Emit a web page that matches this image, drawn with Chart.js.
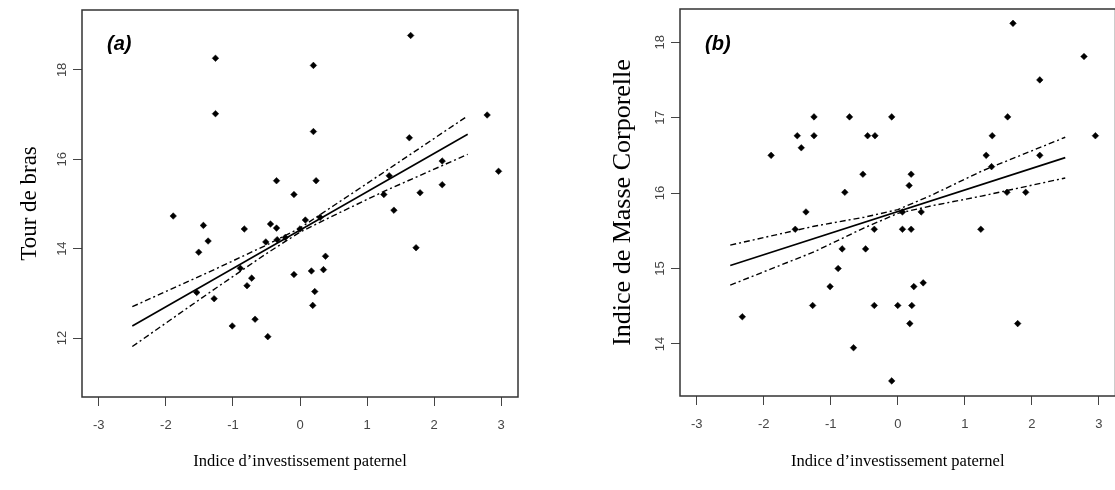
<!DOCTYPE html>
<html lang="fr">
<head>
    <meta charset="UTF-8">
    <title>Investissement paternel</title>
    <script src="https://cdn.jsdelivr.net/npm/chart.js"></script>
    <style>
        body {
            margin: 0;
            background: #fff;
            width: 1115px;
            height: 490px;
            overflow: hidden;
            position: relative;
        }
        .panel {
            position: absolute;
            top: 0;
        }
        #panelA { left: 0; }
        #panelB { left: 560px; }
    </style>
</head>
<body>
    <div class="panel" id="panelA"><canvas id="chartA" width="540" height="490"></canvas></div>
    <div class="panel" id="panelB"><canvas id="chartB" width="560" height="490"></canvas></div>

    <script>
        // (a) indice d'investissement paternel vs tour de bras
        const aInvest = [-1.26, 0.20, -1.26, 0.20, -0.35, 0.24, -0.09, -1.89, -1.44, -0.83,
                         -0.44, -0.35, 0.08, 1.65, 2.79, 1.63, 2.96, 2.12, 1.33, 2.12,
                         1.79, 1.25, 1.40, -1.37, -1.51, -0.51, 0.00, -0.89, -0.72, -0.79,
                         -1.54, -1.28, -1.01, -0.67, -0.48, -0.09, 0.17, 0.35, 0.38, 0.22,
                         0.19, 1.73, -0.34, -0.22, 0.30];
        const aBras = [18.26, 18.10, 17.02, 16.62, 15.52, 15.52, 15.21, 14.73, 14.52, 14.44,
                       14.55, 14.46, 14.64, 18.77, 16.99, 16.48, 15.73, 15.96, 15.63, 15.43,
                       15.25, 15.21, 14.86, 14.17, 13.92, 14.15, 14.44, 13.56, 13.34, 13.17,
                       13.02, 12.88, 12.27, 12.42, 12.03, 13.42, 13.50, 13.53, 13.83, 13.04,
                       12.73, 14.02, 14.20, 14.25, 14.70];

        // (b) indice d'investissement paternel vs IMC
        const bInvest = [-1.89, -1.50, -1.44, -1.25, -1.25, -0.72, -0.45, -0.34, -0.52, -0.79,
                         -1.37, -1.53, 1.72, 2.78, 2.12, -0.09, 1.64, 1.41, 2.95, 1.32,
                         2.12, 1.40, 0.20, 0.17, 1.63, 1.91, 0.07, 0.35, -0.35, 0.07,
                         0.20, 1.24, -0.83, -0.48, -0.89, -1.01, -1.27, -2.32, -0.66, -0.35,
                         0.00, 0.21, 0.18, 0.24, 0.38, 1.79, -0.09];
        const bImc = [16.50, 16.76, 16.60, 17.01, 16.76, 17.01, 16.76, 16.76, 16.25, 16.01,
                      15.75, 15.52, 18.25, 17.81, 17.50, 17.01, 17.01, 16.76, 16.76, 16.50,
                      16.50, 16.35, 16.25, 16.10, 16.01, 16.01, 15.75, 15.75, 15.52, 15.52,
                      15.52, 15.52, 15.26, 15.26, 15.00, 14.76, 14.51, 14.36, 13.95, 14.51,
                      14.51, 14.51, 14.27, 14.76, 14.81, 14.27, 13.51];

        // droites de régression et intervalles de confiance
        const fitX = [-2.5, 2.5];
        const aFit = [12.27, 16.56];
        const bFit = [15.04, 16.47];
        const bandX = [-2.5, -1.25, -0.5, 0, 0.5, 1.25, 2.5];
        const aUpper = [12.70, 13.55, 14.08, 14.46, 14.96, 15.71, 16.97];
        const aLower = [11.81, 13.12, 13.89, 14.37, 14.74, 15.28, 16.11];
        const bUpper = [15.31, 15.56, 15.68, 15.78, 15.97, 16.29, 16.74];
        const bLower = [14.78, 15.22, 15.54, 15.73, 15.83, 15.96, 16.20];

        const xTicks = [-3, -2, -1, 0, 1, 2, 3];
        const xTitle = 'Indice d\u2019investissement paternel';

        const sansFont = '"Liberation Sans", Arial, sans-serif';
        const serifFont = '"Liberation Serif", "Times New Roman", serif';

        function toXY(xs, ys) {
            return xs.map((v, i) => ({ x: v, y: ys[i] }));
        }

        // cadre, étiquettes verticales, titres et lettre du panneau
        function decoPlugin(o) {
            return {
                id: 'deco',
                afterDraw(chart) {
                    const ctx = chart.ctx;
                    const area = chart.chartArea;
                    const ys = chart.scales.y;
                    ctx.save();
                    ctx.strokeStyle = '#333';
                    ctx.lineWidth = 1.5;
                    ctx.strokeRect(area.left, area.top, area.right - area.left, area.bottom - area.top);

                    // ticks y tournés comme dans R
                    ctx.fillStyle = '#444';
                    ctx.font = '13px ' + sansFont;
                    ctx.textAlign = 'center';
                    ctx.textBaseline = 'middle';
                    ys.ticks.forEach(t => {
                        ctx.save();
                        ctx.translate(area.left - 20, ys.getPixelForValue(t.value));
                        ctx.rotate(-Math.PI / 2);
                        ctx.fillText(String(t.value), 0, 0);
                        ctx.restore();
                    });

                    // titres des axes
                    ctx.fillStyle = '#000';
                    ctx.font = o.yTitleSize + 'px ' + serifFont;
                    ctx.save();
                    ctx.translate(area.left - o.yTitleGap, (area.top + area.bottom) / 2);
                    ctx.rotate(-Math.PI / 2);
                    ctx.fillText(o.yTitle, 0, 0);
                    ctx.restore();

                    ctx.font = '16.5px ' + serifFont;
                    ctx.fillText(xTitle, (area.left + area.right) / 2, 462);

                    // (a) / (b)
                    ctx.font = 'italic bold 20px ' + sansFont;
                    ctx.textAlign = 'left';
                    ctx.textBaseline = 'alphabetic';
                    ctx.fillText(o.letter, area.left + 25, 50);
                    ctx.restore();
                }
            };
        }

        function buildChart(id, o) {
            return new Chart(document.getElementById(id), {
                type: 'scatter',
                data: {
                    datasets: [
                        {
                            data: toXY(o.x, o.y),
                            pointStyle: 'rectRot',
                            pointRadius: 3.3,
                            backgroundColor: '#000',
                            borderColor: '#000',
                            borderWidth: 0.5
                        },
                        {
                            data: toXY(fitX, o.fit),
                            showLine: true,
                            borderColor: '#000',
                            borderWidth: 1.6,
                            pointRadius: 0
                        },
                        {
                            data: toXY(bandX, o.upper),
                            showLine: true,
                            borderColor: '#000',
                            borderWidth: 1.4,
                            borderDash: [6, 3, 2, 3],
                            pointRadius: 0
                        },
                        {
                            data: toXY(bandX, o.lower),
                            showLine: true,
                            borderColor: '#000',
                            borderWidth: 1.4,
                            borderDash: [6, 3, 2, 3],
                            pointRadius: 0
                        }
                    ]
                },
                options: {
                    responsive: false,
                    animation: false,
                    events: [],
                    layout: { padding: { top: o.top, right: o.right, left: 0, bottom: 0 } },
                    plugins: {
                        legend: { display: false },
                        tooltip: { enabled: false }
                    },
                    scales: {
                        x: {
                            type: 'linear',
                            min: -3.25,
                            max: 3.25,
                            afterFit: s => { s.height = o.xh; },
                            afterBuildTicks: s => { s.ticks = xTicks.map(v => ({ value: v })); },
                            ticks: {
                                color: '#444',
                                padding: 12,
                                font: { family: sansFont, size: 13 }
                            },
                            grid: { drawOnChartArea: false, tickLength: 9, color: '#444', lineWidth: 1 },
                            border: { display: false }
                        },
                        y: {
                            type: 'linear',
                            min: o.ymin,
                            max: o.ymax,
                            afterFit: s => { s.width = o.yw; },
                            afterBuildTicks: s => { s.ticks = o.yTicks.map(v => ({ value: v })); },
                            ticks: { display: false },
                            grid: { drawOnChartArea: false, tickLength: 9, color: '#444', lineWidth: 1 },
                            border: { display: false }
                        }
                    }
                },
                plugins: [decoPlugin(o)]
            });
        }

        buildChart('chartA', {
            x: aInvest, y: aBras, fit: aFit, upper: aUpper, lower: aLower,
            ymin: 10.68, ymax: 19.34, yTicks: [12, 14, 16, 18],
            top: 10, right: 22, xh: 93, yw: 82,
            yTitle: 'Tour de bras', yTitleSize: 23, yTitleGap: 52, letter: '(a)'
        });

        buildChart('chartB', {
            x: bInvest, y: bImc, fit: bFit, upper: bUpper, lower: bLower,
            ymin: 13.31, ymax: 18.44, yTicks: [14, 15, 16, 17, 18],
            top: 9, right: 3, xh: 94, yw: 120,
            yTitle: 'Indice de Masse Corporelle', yTitleSize: 26, yTitleGap: 57, letter: '(b)'
        });
    </script>
</body>
</html>
